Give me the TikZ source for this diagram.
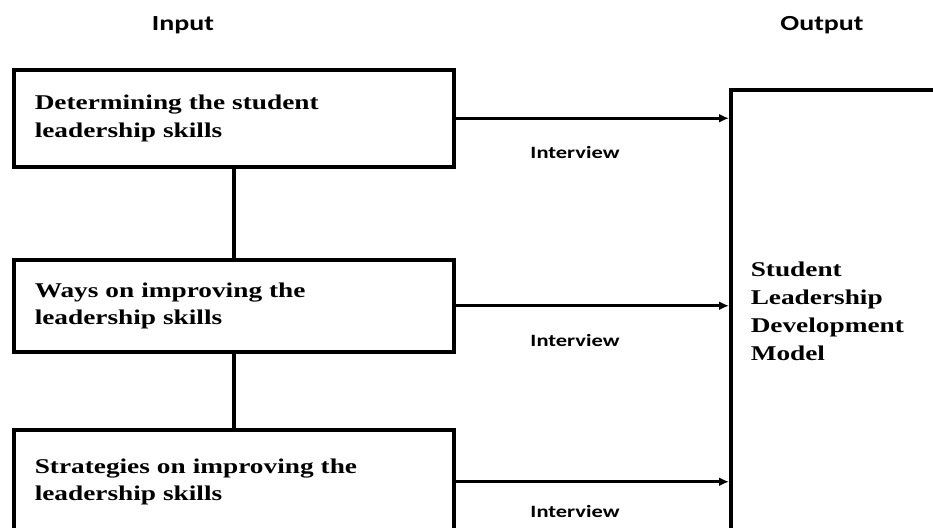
\documentclass[tikz,border=0pt]{standalone}
\usepackage{fontspec}
\setmainfont[FakeStretch=1.3]{Liberation Serif}
\newfontfamily\labfont[FakeStretch=1.3]{Carlito}
\usetikzlibrary{arrows.meta}
\begin{document}
\begin{tikzpicture}[x=1pt,y=-1pt,
  inbox/.style={draw, line width=3.5pt, anchor=north west, minimum width=440pt, text width=398pt, inner xsep=21pt, align=left, font=\fontsize{21}{27.5}\selectfont\bfseries},
  outbox/.style={draw, line width=3.5pt, anchor=north west, minimum width=280pt, text width=240pt, inner xsep=19pt, align=left, font=\fontsize{21}{28}\selectfont\bfseries},
  link/.style={line width=3.5pt},
  arr/.style={line width=3pt, -{Latex[length=10pt,width=9pt]}},
  lab/.style={font=\labfont\fontsize{17.3}{20}\selectfont\bfseries},
  head/.style={font=\labfont\fontsize{21.5}{24}\selectfont\bfseries}]
\useasboundingbox (0,0) rectangle (933,527);
\clip (0,0) rectangle (933,527);
\node[head] (hin) at (183,25) {Input};
\node[head] (hout) at (822,25) {Output};
\node[inbox, minimum height=97pt] (b1) at (12,68) {Determining the student\\leadership skills};
\node[inbox, minimum height=92pt] (b2) at (12,258) {Ways on improving the\\leadership skills};
\node[inbox, minimum height=104pt] (b3) at (12,428) {Strategies on improving the\\leadership skills};
\node[outbox, minimum height=444pt] (out) at (729,88) {Student\\Leadership\\Development\\Model};
\draw[link] (b1.south) -- (b2.north);
\draw[link] (b2.south) -- (b3.north);
\draw[arr] (b1.east) -- (b1.east -| out.west);
\draw[arr] (b2.east) -- (b2.east -| out.west);
\draw[arr] (b3.east) -- (b3.east -| out.west);
\node[lab] (i1) at (575,152) {Interview};
\node[lab] (i2) at (575,340) {Interview};
\node[lab] (i3) at (575,511) {Interview};
\end{tikzpicture}
\end{document}
